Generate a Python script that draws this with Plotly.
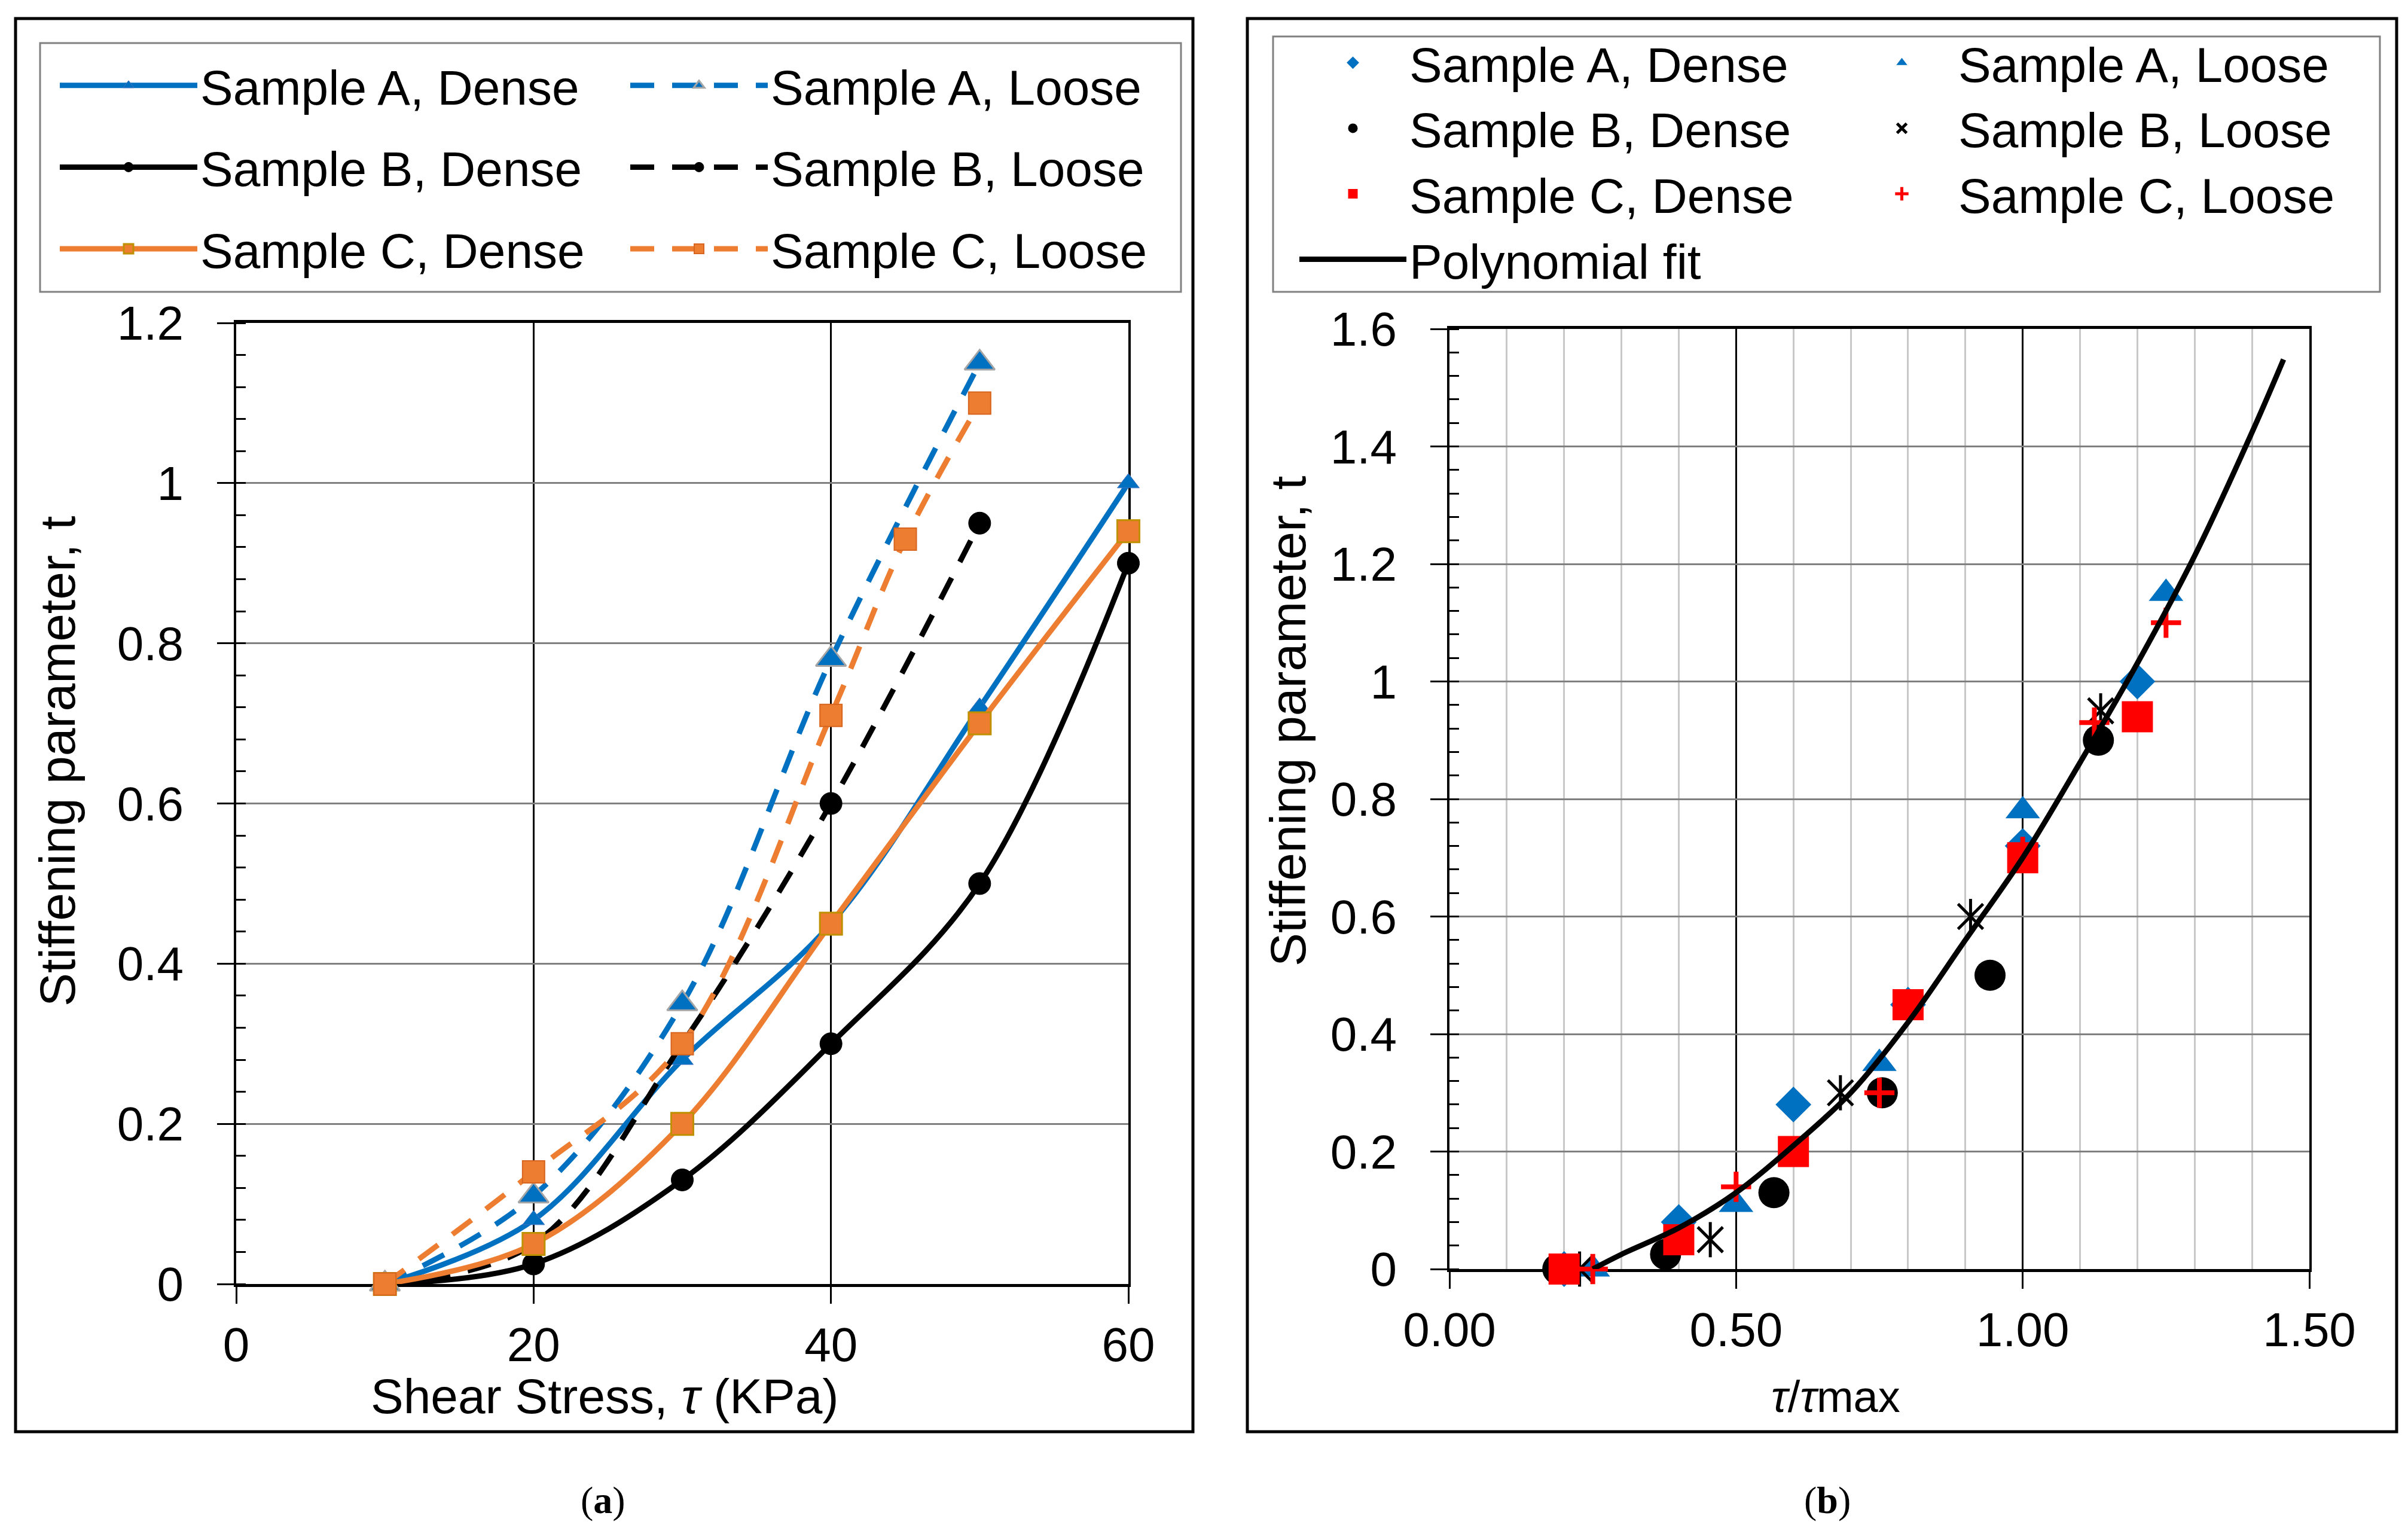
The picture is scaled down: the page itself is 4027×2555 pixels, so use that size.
import plotly.graph_objects as go

# ---------------- data: panel (a) ----------------
tau_A_dense = [10, 20, 30, 40, 50, 60]
t_A_dense = [0, 0.08, 0.28, 0.45, 0.72, 1.0]
tau_A_loose = [10, 20, 30, 40, 50]
t_A_loose = [0, 0.11, 0.35, 0.78, 1.15]
tau_B_dense = [10, 20, 30, 40, 50, 60]
t_B_dense = [0, 0.025, 0.13, 0.30, 0.50, 0.90]
tau_B_loose = [10, 20, 30, 40, 50]
t_B_loose = [0, 0.05, 0.30, 0.60, 0.95]
tau_C_dense = [10, 20, 30, 40, 50, 60]
t_C_dense = [0, 0.05, 0.20, 0.45, 0.70, 0.94]
tau_C_loose = [10, 20, 30, 40, 45, 50]
t_C_loose = [0, 0.14, 0.30, 0.71, 0.93, 1.10]

# ---------------- data: panel (b) (tau / tau_max) ----------------
r_A_dense = [0.2, 0.4, 0.6, 0.8, 1.0, 1.2]
r_A_loose = [0.25, 0.5, 0.75, 1.0, 1.25]
r_B_dense = [0.189, 0.377, 0.566, 0.755, 0.943, 1.132]
r_B_loose = [0.227, 0.455, 0.682, 0.909, 1.136]
r_C_dense = [0.2, 0.4, 0.6, 0.8, 1.0, 1.2]
r_C_loose = [0.25, 0.5, 0.75, 1.0, 1.125, 1.25]

fit_x = [0.25, 0.3, 0.4, 0.5, 0.6, 0.7, 0.8, 0.9, 1.0, 1.1, 1.2, 1.3, 1.4, 1.455]
fit_y = [0.0, 0.025, 0.07, 0.13, 0.21, 0.30, 0.42, 0.56, 0.70, 0.862, 1.031, 1.214, 1.424, 1.548]

x_ticks_a = [0, 20, 40, 60]
x_ticks_b = [0.0, 0.5, 1.0, 1.5]

BLUE = "#0070C0"
ORANGE = "#ED7D31"
RED = "#FF0000"
FONT = "Liberation Sans, Arial, sans-serif"
W, H = 4027, 2555

fig = go.Figure()

LW = 9
DASH = "40px,30px"

def left_trace(x, y, name, color, dash, symbol, size, lcolor, lw, legend, rank):
    fig.add_trace(go.Scatter(
        x=x, y=y, name=name, mode="lines+markers",
        line=dict(color=color, width=LW, dash=dash, shape="spline", smoothing=1.0),
        marker=dict(symbol=symbol, size=size, color=color, line=dict(color=lcolor, width=lw)),
        xaxis="x", yaxis="y", legend=legend, legendgroup=name, legendrank=rank,
        cliponaxis=False,
    ))

left_trace(tau_A_dense, t_A_dense, "Sample A, Dense", BLUE, "solid", "triangle-up", 32, "#4472C4", 1, "legend", 1)
left_trace(tau_A_loose, t_A_loose, "Sample A, Loose", BLUE, DASH, "triangle-up", 44, "#A5A5A5", 3, "legend2", 1)
left_trace(tau_B_dense, t_B_dense, "Sample B, Dense", "black", "solid", "circle", 37, "black", 1, "legend", 2)
left_trace(tau_B_loose, t_B_loose, "Sample B, Loose", "black", DASH, "circle", 37, "black", 1, "legend2", 2)
left_trace(tau_C_dense, t_C_dense, "Sample C, Dense", ORANGE, "solid", "square", 37, "#BF9000", 3, "legend", 3)
left_trace(tau_C_loose, t_C_loose, "Sample C, Loose", ORANGE, DASH, "square", 37, "#D8651F", 2, "legend2", 3)

def right_trace(x, y, name, color, symbol, size, lw, legend, rank, showlegend=True, lcolor=None):
    fig.add_trace(go.Scatter(
        x=x, y=y, name=name, mode="markers",
        marker=dict(symbol=symbol, size=size, color=color,
                    line=dict(color=lcolor or color, width=lw)),
        xaxis="x2", yaxis="y2", legend=legend, legendgroup=name + legend,
        legendrank=rank, showlegend=showlegend, cliponaxis=False,
    ))

right_trace(r_A_dense, t_A_dense, "Sample A, Dense", BLUE, "diamond", 46, 0, "legend3", 1)
right_trace(r_A_loose, t_A_loose, "Sample A, Loose", BLUE, "triangle-up", 50, 0, "legend4", 1)
right_trace(r_B_dense, t_B_dense, "Sample B, Dense", "black", "circle", 52, 0, "legend3", 2)
right_trace(r_B_loose, t_B_loose, "Sample B, Loose", "black", "x-thin-open", 42, 5, "legend4", 2)
right_trace(r_B_loose, t_B_loose, "Sample B, Loose", "black", "line-ns-open", 42, 5, "legend4", 2, showlegend=False)
right_trace(r_C_dense, t_C_dense, "Sample C, Dense", RED, "square", 52, 0, "legend3", 3)
right_trace(r_C_loose, t_C_loose, "Sample C, Loose", RED, "cross-thin-open", 36, 8, "legend4", 3)

fig.add_trace(go.Scatter(
    x=fit_x, y=fit_y, name="Polynomial fit", mode="lines",
    line=dict(color="black", width=9, shape="spline", smoothing=1.0),
    xaxis="x2", yaxis="y2", legend="legend3", legendgroup="fit", legendrank=4,
    cliponaxis=False,
))

tickfont = dict(family=FONT, size=80, color="black")

def xaxis_common(rng, tickvals, fmt, domain):
    return dict(
        domain=domain, range=rng, tickvals=tickvals, tickformat=fmt,
        showgrid=True, gridcolor="black", gridwidth=2.5,
        showline=True, linecolor="black", linewidth=5, mirror=True,
        ticks="outside", ticklen=28, tickwidth=3, tickcolor="black",
        tickfont=tickfont, zeroline=False, layer="below traces",
        ticklabelstandoff=0, automargin=False,
    )

def yaxis_common(rng, domain):
    return dict(
        domain=domain, range=rng, dtick=0.2, tick0=0,
        showgrid=True, gridcolor="#808080", gridwidth=3,
        showline=True, linecolor="black", linewidth=4, mirror=True,
        ticks="outside", ticklen=28, tickwidth=3, tickcolor="black",
        tickfont=tickfont, zeroline=False, layer="below traces",
        ticklabelstandoff=40, automargin=False,
        minor=dict(dtick=0.04, ticks="inside", ticklen=16, tickwidth=3,
                   tickcolor="black", showgrid=False),
    )

xa = xaxis_common([0, 60], x_ticks_a, "d", [395 / W, 1887 / W])
ya = yaxis_common([0, 1.2], [1 - 2147 / H, 1 - 540 / H])
xb = xaxis_common([0, 1.5], x_ticks_b, ".2f", [2424 / W, 3862 / W])
xb["minor"] = dict(dtick=0.1, showgrid=True, gridcolor="#C8C8C8", gridwidth=2.5, ticks="")
yb = yaxis_common([0, 1.6], [1 - 2122 / H, 1 - 550 / H])
ya["anchor"] = "x"
xa["anchor"] = "y"
xb["anchor"] = "y2"
yb["anchor"] = "x2"

legfont = dict(family=FONT, size=82, color="black")

def leg(x, ytop, itemwidth, gap):
    return dict(
        x=x / W, y=1 - ytop / H, xanchor="left", yanchor="top",
        orientation="v", font=legfont, itemwidth=itemwidth,
        bgcolor="rgba(0,0,0,0)", borderwidth=0, tracegroupgap=gap,
        traceorder="grouped",
    )

shapes = [
    # outer panel frames
    dict(type="rect", xref="paper", yref="paper", x0=26 / W, x1=1995 / W,
         y0=1 - 2394 / H, y1=1 - 31 / H, line=dict(color="black", width=5)),
    dict(type="rect", xref="paper", yref="paper", x0=2086 / W, x1=4008 / W,
         y0=1 - 2394 / H, y1=1 - 31 / H, line=dict(color="black", width=5)),
    # legend frames
    dict(type="rect", xref="paper", yref="paper", x0=67 / W, x1=1975 / W,
         y0=1 - 488 / H, y1=1 - 72 / H, line=dict(color="#808080", width=3)),
    dict(type="rect", xref="paper", yref="paper", x0=2129 / W, x1=3980 / W,
         y0=1 - 488 / H, y1=1 - 61 / H, line=dict(color="#808080", width=3)),
]

annotations = [
    dict(text="Stiffening parameter, t", x=96 / W, y=1 - 1273 / H, xref="paper", yref="paper",
         textangle=-90, showarrow=False, xanchor="center", yanchor="middle",
         font=dict(family=FONT, size=84, color="black")),
    dict(text="Stiffening parameter, t", x=2154 / W, y=1 - 1206 / H, xref="paper", yref="paper",
         textangle=-90, showarrow=False, xanchor="center", yanchor="middle",
         font=dict(family=FONT, size=84, color="black")),
    dict(text="Shear Stress, <i>τ</i> (KPa)", x=1011 / W, y=1 - 2334 / H, xref="paper", yref="paper",
         showarrow=False, xanchor="center", yanchor="middle",
         font=dict(family=FONT, size=82, color="black")),
    dict(text="<i>τ</i>/<i>τ</i>max", x=3070 / W, y=1 - 2335 / H, xref="paper", yref="paper",
         showarrow=False, xanchor="center", yanchor="middle",
         font=dict(family=FONT, size=74, color="black")),
    dict(text="(<b>a</b>)", x=1008 / W, y=1 - 2508 / H, xref="paper", yref="paper",
         showarrow=False, xanchor="center", yanchor="middle",
         font=dict(family="Liberation Serif, Times New Roman, serif", size=64, color="black")),
    dict(text="(<b>b</b>)", x=3056 / W, y=1 - 2508 / H, xref="paper", yref="paper",
         showarrow=False, xanchor="center", yanchor="middle",
         font=dict(family="Liberation Serif, Times New Roman, serif", size=64, color="black")),
]

fig.update_layout(
    width=W, height=H, autosize=False,
    margin=dict(l=0, r=0, t=0, b=0, pad=0, autoexpand=False),
    paper_bgcolor="white", plot_bgcolor="white",
    font=dict(family=FONT, color="black"),
    xaxis=xa, yaxis=ya, xaxis2=xb, yaxis2=yb,
    legend=leg(95, 83, 230, 27),
    legend2=leg(1049, 83, 230, 27),
    legend3=leg(2168, 45, 179, 0),
    legend4=leg(3086, 45, 179, 0),
    shapes=shapes, annotations=annotations,
    showlegend=True,
)

fig.write_html("out.html", post_script="document.body.style.margin='0px';",
               config={"displayModeBar": False})
